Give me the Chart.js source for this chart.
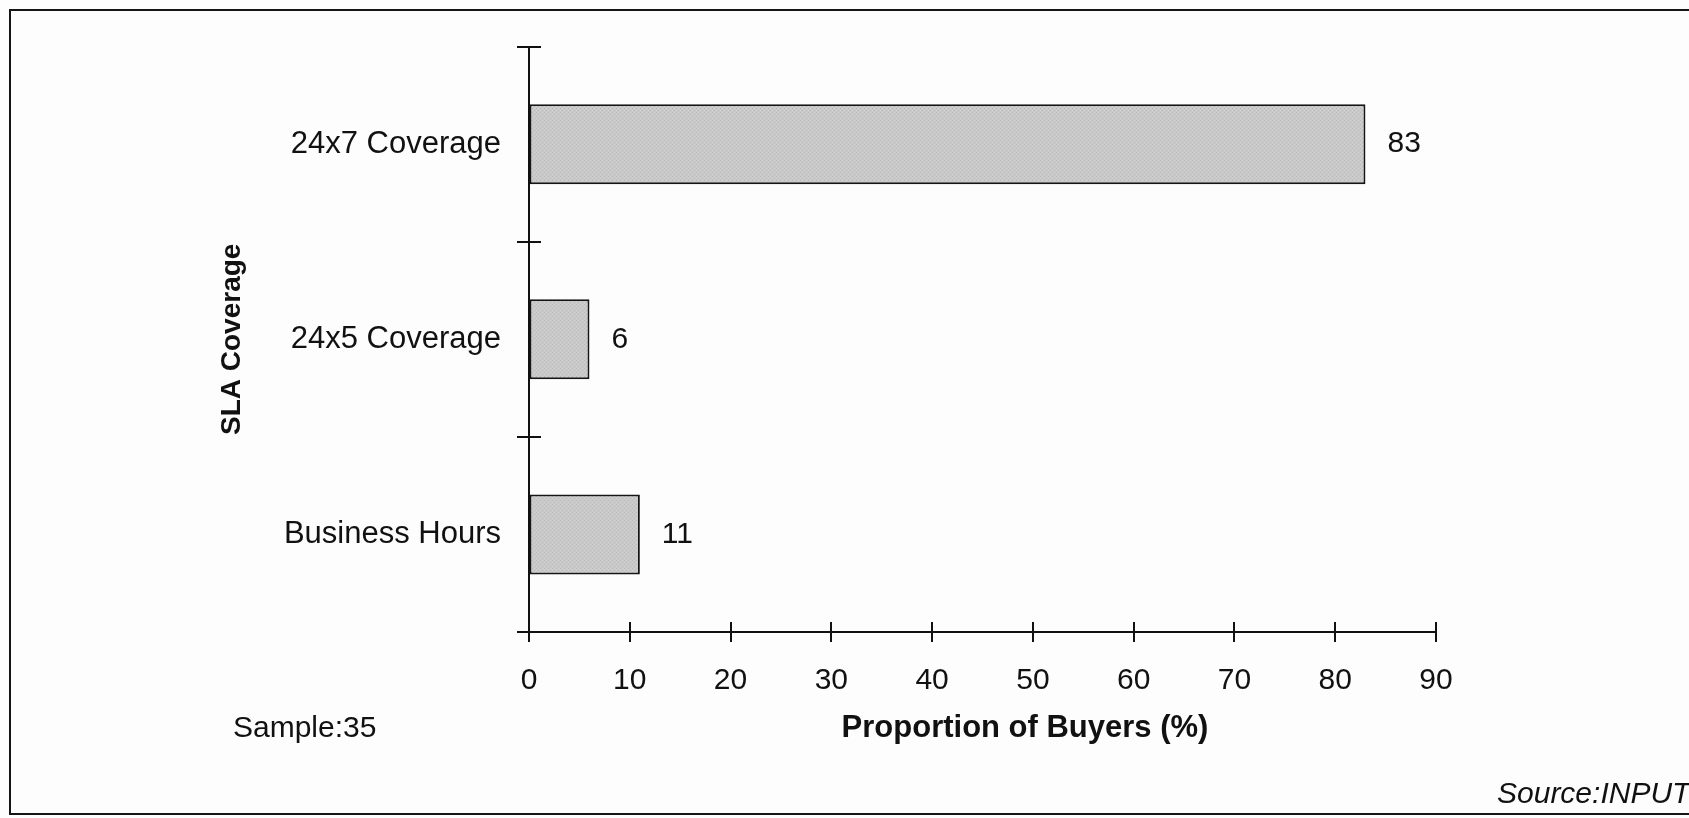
<!DOCTYPE html>
<html>
<head>
<meta charset="utf-8">
<title>SLA Coverage</title>
<script src="https://cdn.jsdelivr.net/npm/chart.js@4.4.1/dist/chart.umd.min.js"></script>
<style>
  html, body { margin: 0; padding: 0; background: #fdfdfd; overflow: hidden; }
  #wrap { width: 1689px; height: 818px; }
</style>
</head>
<body>
<div id="wrap"><canvas id="c" width="1689" height="818"></canvas></div>
<script>
// Survey data: share of buyers by SLA coverage window
const categories = ['24x7 Coverage', '24x5 Coverage', 'Business Hours'];
const buyerShare = [83, 6, 11];
const xTickValues = [0, 10, 20, 30, 40, 50, 60, 70, 80, 90];
const xTitle = 'Proportion of Buyers (%)';
const yTitle = 'SLA Coverage';
const sampleNote = 'Sample:35';
const sourceNote = 'Source:INPUT';

const FONT = '"Liberation Sans", Arial, Helvetica, sans-serif';
const INK = '#111111';

// Fine dotted grey fill for the bars
function makeBarFill() {
  const tile = document.createElement('canvas');
  tile.width = 4;
  tile.height = 4;
  const t = tile.getContext('2d');
  t.fillStyle = '#c9c9c9';
  t.fillRect(0, 0, 4, 4);
  t.fillStyle = '#b9b9b9';
  t.fillRect(0, 0, 1, 1);
  t.fillRect(2, 2, 1, 1);
  t.fillStyle = '#d2d2d2';
  t.fillRect(2, 0, 1, 1);
  t.fillRect(0, 2, 1, 1);
  return t.createPattern(tile, 'repeat');
}

// Page background and the outer border box
const framePlugin = {
  id: 'frame',
  beforeDraw(chart) {
    const ctx = chart.ctx;
    ctx.save();
    ctx.fillStyle = '#fdfdfd';
    ctx.fillRect(0, 0, chart.width, chart.height);
    ctx.strokeStyle = '#151515';
    ctx.lineWidth = 2;
    ctx.strokeRect(10, 10, chart.width + 20, chart.height - 14);
    ctx.restore();
  }
};

// Tick marks that cross the axis lines on both sides
const crossTicksPlugin = {
  id: 'crossTicks',
  afterDraw(chart) {
    const { ctx, scales: { x, y } } = chart;
    ctx.save();
    ctx.strokeStyle = INK;
    ctx.lineWidth = 2;
    ctx.beginPath();
    const n = categories.length;
    for (let k = 0; k <= n; k++) {
      const py = Math.round(y.top + k * (y.bottom - y.top) / n);
      ctx.moveTo(x.left - 12, py);
      ctx.lineTo(x.left + 12, py);
    }
    x.ticks.forEach(t => {
      const px = Math.round(x.getPixelForValue(t.value));
      ctx.moveTo(px, y.bottom - 10);
      ctx.lineTo(px, y.bottom + 10);
    });
    ctx.stroke();
    ctx.restore();
  }
};

// Value printed just past the end of each bar
const valueLabelPlugin = {
  id: 'valueLabels',
  afterDatasetsDraw(chart) {
    const ctx = chart.ctx;
    const meta = chart.getDatasetMeta(0);
    ctx.save();
    ctx.font = '30px ' + FONT;
    ctx.fillStyle = INK;
    ctx.textAlign = 'left';
    ctx.textBaseline = 'middle';
    meta.data.forEach((bar, i) => {
      ctx.fillText(String(buyerShare[i]), bar.x + 22, bar.y);
    });
    ctx.restore();
  }
};

// Axis titles and the footnotes
const notesPlugin = {
  id: 'notes',
  afterDraw(chart) {
    const ctx = chart.ctx;
    ctx.save();
    ctx.fillStyle = INK;
    ctx.textBaseline = 'middle';

    ctx.font = 'bold 31px ' + FONT;
    ctx.textAlign = 'center';
    ctx.fillText(xTitle, 1025, 728);

    ctx.save();
    ctx.translate(232, (chart.scales.y.top + chart.scales.y.bottom) / 2);
    ctx.rotate(-Math.PI / 2);
    ctx.font = 'bold 28px ' + FONT;
    ctx.fillText(yTitle, 0, 0);
    ctx.restore();

    ctx.font = '30px ' + FONT;
    ctx.textAlign = 'left';
    ctx.fillText(sampleNote, 233, 729);

    ctx.font = 'italic 30px ' + FONT;
    ctx.fillText(sourceNote, 1497, 795);
    ctx.restore();
  }
};

const canvas = document.getElementById('c');
new Chart(canvas, {
  type: 'bar',
  data: {
    labels: categories,
    datasets: [{
      data: buyerShare,
      backgroundColor: makeBarFill(),
      borderColor: '#151515',
      borderWidth: 2,
      borderSkipped: false,
      barPercentage: 0.41,
      categoryPercentage: 1.0
    }]
  },
  options: {
    indexAxis: 'y',
    responsive: false,
    animation: false,
    events: [],
    layout: { padding: { top: 46, right: 253, left: 0, bottom: 0 } },
    plugins: {
      legend: { display: false },
      tooltip: { enabled: false },
      title: { display: false }
    },
    scales: {
      x: {
        type: 'linear',
        min: xTickValues[0],
        max: xTickValues[xTickValues.length - 1],
        afterBuildTicks(scale) {
          scale.ticks = xTickValues.map(v => ({ value: v }));
        },
        afterFit(scale) { scale.height = 186; },
        grid: { display: true, drawOnChartArea: false, drawTicks: false },
        border: { display: true, color: INK, width: 2 },
        ticks: {
          autoSkip: false,
          maxRotation: 0,
          padding: 31,
          color: INK,
          font: { family: FONT, size: 30 }
        }
      },
      y: {
        type: 'category',
        offset: true,
        afterFit(scale) { scale.width = 529; },
        grid: { display: true, drawOnChartArea: false, drawTicks: false, offset: true },
        border: { display: true, color: INK, width: 2 },
        ticks: {
          padding: 28,
          color: INK,
          font: { family: FONT, size: 31 }
        }
      }
    }
  },
  plugins: [framePlugin, crossTicksPlugin, valueLabelPlugin, notesPlugin]
});
</script>
</body>
</html>
